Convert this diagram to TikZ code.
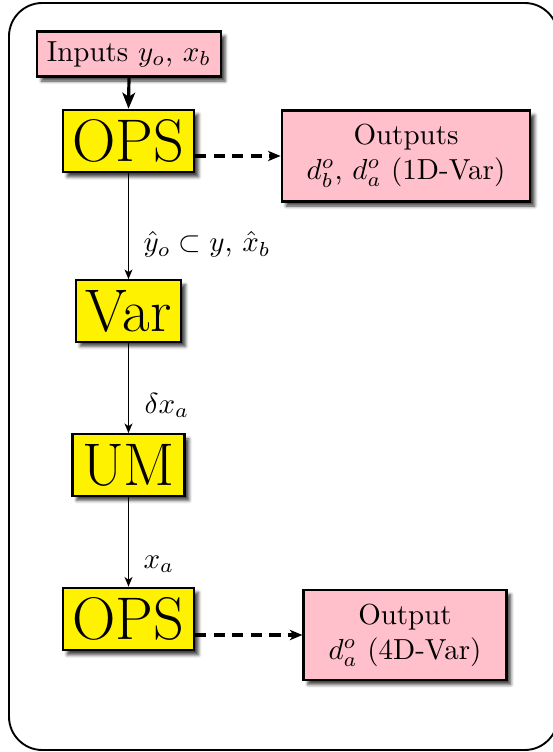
\documentclass[tikz,border=0pt]{standalone}
\usetikzlibrary{arrows.meta,shadows.blur}
\definecolor{boxpink}{RGB}{255,192,203}
\begin{document}
\begin{tikzpicture}[
  x=0.3448pt, y=-0.3448pt,
  boxbase/.style={draw=black, line width=0.8pt,
    blur shadow={shadow xshift=1.5pt, shadow yshift=-1.6pt,
      shadow blur radius=1.1pt, shadow opacity=75}},
  procbox/.style={boxbase, fill=yellow, font=\huge},
  inbox/.style={boxbase, fill=boxpink},
  outbox/.style={boxbase, fill=boxpink, align=center, inner xsep=8.6pt, inner ysep=4.7pt},
  thinflow/.style={line width=0.55pt, -{Stealth[length=3.3pt, width=2.7pt, inset=0.9pt]}},
  thickflow/.style={line width=1.1pt, -{Stealth[length=5.5pt, width=4.4pt, inset=1.4pt]}},
  dashflow/.style={line width=1.05pt, dash pattern=on 3.8pt off 2.6pt,
    -{Stealth[length=4.3pt, width=3.5pt, inset=1.1pt]}},
  flowlabel/.style={anchor=base west, inner sep=0pt}
]
\useasboundingbox (0,0) rectangle (552,752);

% outer frame
\draw[line width=0.65pt, rounded corners=11.5pt] (9,3) rectangle (558,750);

% boxes
\node[inbox]   (inputs) at (129,54)  {Inputs $y_o$, $x_b$};
\node[procbox] (ops1)   at (128.5,141) {OPS};
\node[outbox]  (out1)   at (406,156) {Outputs\\ $d_b^o$, $d_a^o$ (1D-Var)};
\node[procbox] (var)    at (128.5,311) {Var};
\node[procbox] (um)     at (128.5,465) {UM};
\node[procbox] (ops2)   at (128.5,619) {OPS};
\node[outbox]  (out2)   at (405,635) {Output\\ $d_a^o$ (4D-Var)};

% flow labels
\node[flowlabel] (lab1) at (143,252) {$\hat{y}_o\subset y$, $\hat{x}_b$};
\node[flowlabel] (lab2) at (144,413) {$\delta x_a$};
\node[flowlabel] (lab3) at (143,568) {$x_a$};

% connectors
\draw[thickflow] (inputs.south) -- (ops1.north);
\draw[thinflow]  (ops1.south) -- (var.north);
\draw[thinflow]  (var.south) -- (um.north);
\draw[thinflow]  (um.south) -- (ops2.north);
\draw[dashflow]  (ops1.east |- out1.west) -- (out1.west);
\draw[dashflow]  (ops2.east |- out2.west) -- (out2.west);
\end{tikzpicture}
\end{document}
